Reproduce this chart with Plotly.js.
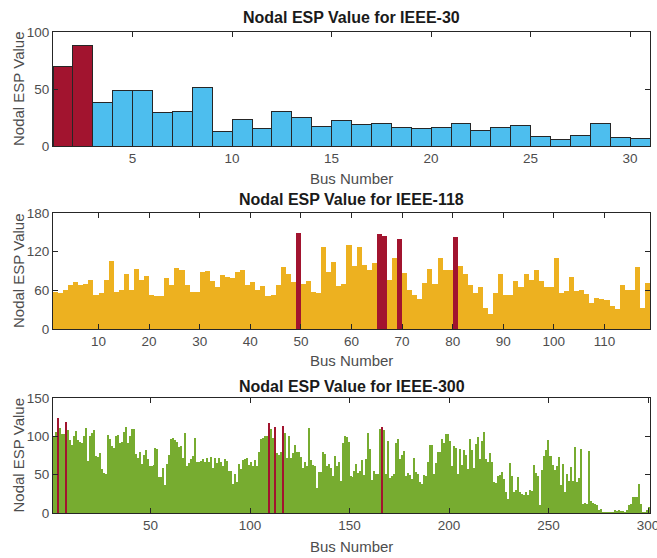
<!DOCTYPE html>
<html>
<head>
<meta charset="utf-8">
<script src="https://cdn.plot.ly/plotly-3.0.1.min.js"></script>
<style>
html,body{margin:0;padding:0;background:#fff;}
#chart{width:657px;height:558px;}
#chart .bars path{shape-rendering:crispEdges;}
</style>
</head>
<body>
<div id="chart"></div>
<script>
// ---------- DATA ----------
const titles = ["Nodal ESP Value for IEEE-30", "Nodal ESP Value for IEEE-118", "Nodal ESP Value for IEEE-300"];
const xLabel = "Bus Number";
const yLabel = "Nodal ESP Value";

const ieee30 = [70, 88, 38.5, 49, 49, 29, 30.7, 51.6, 12.5, 23,
                15.6, 30, 25, 17, 22, 19, 19.4, 16, 15, 16.5,
                19.4, 14, 16, 17.7, 8.7, 5.8, 9, 20, 7.5, 7];
const ieee30Highlight = [1, 2];

const ieee118 = [57, 55.6, 61, 68.6, 73, 69, 69.6, 75.8, 53, 55.6,
                 76, 105, 57.7, 60.8, 85.7, 61, 93.5, 76, 82.6, 52.5,
                 51.4, 51, 79, 68, 95, 91.4, 68.6, 57, 58, 88.8,
                 90.4, 74.8, 65, 84, 81, 79, 88.8, 91.4, 69, 73,
                 60, 66.5, 51.4, 52, 68.6, 96.6, 86, 73, 149.6, 70,
                 74, 57.7, 56.6, 127, 88.8, 104, 67, 69.6, 130, 98,
                 127.8, 99.7, 92, 103, 147.5, 144, 75.8, 110.6, 140, 87,
                 60, 53, 46, 71.7, 92.5, 69.6, 110.6, 92, 91, 143,
                 97, 85, 68.6, 56, 65, 32.7, 24, 56.6, 84.7, 53,
                 53, 74.8, 65.5, 85.7, 75.8, 91.4, 74.8, 65.5, 65, 110,
                 55.6, 58.7, 81, 59.7, 60.8, 54, 40.5, 47.8, 46.8, 45.7,
                 35.8, 30.6, 69, 61.3, 61.3, 96.6, 32.7, 71.7];
const ieee118Highlight = [49, 65, 66, 69, 80];

const ieee300 = [100, 106, 124.5, 111, 103, 103, 119, 108, 95, 89,
                 100, 107, 95, 92, 91, 101, 111, 68, 100, 104,
                 108, 75, 73, 78, 58, 52, 51, 102, 97, 88,
                 85, 101, 102, 91, 92, 106, 112, 91, 100, 109,
                 109, 77, 72, 79, 64, 76, 82, 71, 61, 61,
                 62, 85, 83, 47, 47, 59, 36, 64, 76, 96,
                 98, 95, 92, 86, 87, 72, 105, 61, 65, 71,
                 75, 98, 67, 67, 68, 70, 67, 72, 67, 73,
                 59, 72, 65, 72, 67, 61, 71, 68, 55, 55,
                 38, 51, 41, 64, 58, 69, 71, 72, 62, 66,
                 61, 69, 61, 79, 97, 98, 101, 100, 118, 110,
                 98, 112, 78, 76, 79, 113, 104, 72, 100, 72,
                 78, 89, 79, 79, 73, 59, 67, 61, 111, 69,
                 62, 61, 33, 53, 53, 79, 77, 61, 64, 59,
                 48, 74, 61, 66, 42, 91, 101, 99, 93, 48,
                 47, 55, 64, 52, 55, 69, 49, 71, 105, 84,
                 43, 55, 51, 51, 109, 112, 108, 51, 94, 46,
                 48, 51, 91, 97, 70, 76, 81, 48, 52, 49,
                 45, 72, 53, 51, 40, 38, 49, 48, 66, 89,
                 89, 51, 65, 79, 79, 97, 91, 103, 103, 94,
                 61, 87, 85, 51, 83, 62, 82, 76, 58, 96,
                 82, 59, 90, 99, 71, 94, 106, 71, 66, 78,
                 66, 40, 39, 48, 50, 53, 45, 27, 18, 65,
                 48, 27, 30, 47, 27, 25, 24, 28, 24, 30,
                 29, 62, 52, 48, 10, 56, 75, 82, 95, 74,
                 74, 63, 56, 61, 73, 36, 64, 28, 51, 42,
                 60, 42, 86, 41, 46, 84, 12, 13, 12, 81,
                 16, 13, 12, 10, 3.5, 5.5, 1.3, 1.3, 1.3, 1.3,
                 1.3, 1.3, 3.4, 2, 3.4, 2.5, 2, 1.3, 3.4, 10,
                 12, 21, 21, 21, 38, 12, 1.3, 1.3, 3.4, 8];
const ieee300Highlight = [3, 7, 109, 112, 116, 166];

const xTicks30 = [5, 10, 15, 20, 25, 30];
const xTicks118 = [10, 20, 30, 40, 50, 60, 70, 80, 90, 100, 110];
const xTicks300 = [50, 100, 150, 200, 250, 300];
const yTicks30 = [0, 50, 100];
const yTicks118 = [0, 60, 120, 180];
const yTicks300 = [0, 50, 100, 150];

// ---------- STYLE ----------
const RED = '#A2142F', BLUE = '#4DBEEE', YELLOW = '#EDB120', GREEN = '#77AC30';
const FONT = 'Liberation Sans, Arial, Helvetica, sans-serif';
const W = 657, H = 558, L = 53, R = 7;
const py = p => (H - p) / H;            // pixel row -> paper y
const px = p => (p - L) / (W - L - R);  // pixel col -> paper x

function seq(n) { return Array.from({length: n}, (_, i) => i + 1); }

function makeTraces(vals, hl, base, axisIdx, edge) {
  const xs = seq(vals.length);
  const ax = axisIdx === 1 ? '' : String(axisIdx);
  const line = edge ? {color: '#262626', width: 1} : {width: 0};
  return [
    {type: 'bar', x: xs, y: vals, offset: 0, width: 1, xaxis: 'x' + ax, yaxis: 'y' + ax,
     marker: {color: base, line: line}, hoverinfo: 'x+y', showlegend: false},
    {type: 'bar', x: hl, y: hl.map(b => vals[b - 1]), offset: 0, width: 1, xaxis: 'x' + ax, yaxis: 'y' + ax,
     marker: {color: RED, line: line}, hoverinfo: 'x+y', showlegend: false}
  ];
}

const data = [].concat(
  makeTraces(ieee30, ieee30Highlight, BLUE, 1, true),
  makeTraces(ieee118, ieee118Highlight, YELLOW, 2, false),
  makeTraces(ieee300, ieee300Highlight, GREEN, 3, false)
);

const axCommon = {
  showline: true, linecolor: '#262626', linewidth: 1, mirror: 'ticks',
  ticks: 'inside', ticklen: 5, tickcolor: '#262626', tickwidth: 1,
  showgrid: false, zeroline: false, fixedrange: true, ticklabeloverflow: 'allow',
  tickfont: {family: FONT, size: 13.5, color: '#4d4d4d'}, tickmode: 'array'
};
function xa(range, ticks, anchor) { return Object.assign({}, axCommon, {range: range, tickvals: ticks, anchor: anchor, domain: [0, 1]}); }
function ya(range, ticks, anchor, dom) { return Object.assign({}, axCommon, {range: range, tickvals: ticks, anchor: anchor, domain: dom}); }

const annotations = [];
const panels = [
  {title: titles[0], tY: 17, xlY: 178, top: 32, bot: 146},
  {title: titles[1], tY: 199, xlY: 361, top: 213, bot: 329},
  {title: titles[2], tY: 386, xlY: 546, top: 398, bot: 513}
];
panels.forEach(p => {
  annotations.push({text: '<b>' + p.title + '</b>', xref: 'paper', yref: 'paper', x: 0.5, y: py(p.tY),
    xanchor: 'center', yanchor: 'middle', showarrow: false, font: {family: FONT, size: 16, color: '#1a1a1a'}});
  annotations.push({text: xLabel, xref: 'paper', yref: 'paper', x: 0.5, y: py(p.xlY),
    xanchor: 'center', yanchor: 'middle', showarrow: false, font: {family: FONT, size: 15, color: '#4d4d4d'}});
  annotations.push({text: yLabel, xref: 'paper', yref: 'paper', x: px(18), y: py((p.top + p.bot) / 2),
    xanchor: 'center', yanchor: 'middle', textangle: -90, showarrow: false, font: {family: FONT, size: 15, color: '#4d4d4d'}});
});

const layout = {
  width: W, height: H, margin: {l: L, r: R, t: 0, b: 0, pad: 0},
  paper_bgcolor: '#fff', plot_bgcolor: '#fff', barmode: 'overlay', showlegend: false,
  xaxis: xa([1, 31], xTicks30, 'y'),
  yaxis: ya([0, 100], yTicks30, 'x', [py(146), py(32)]),
  xaxis2: xa([1, 119], xTicks118, 'y2'),
  yaxis2: ya([0, 180], yTicks118, 'x2', [py(329), py(213)]),
  xaxis3: xa([1, 301], xTicks300, 'y3'),
  yaxis3: ya([0, 150], yTicks300, 'x3', [py(513), py(398)]),
  annotations: annotations
};

Plotly.newPlot('chart', data, layout, {displayModeBar: false, staticPlot: true});
</script>
</body>
</html>
